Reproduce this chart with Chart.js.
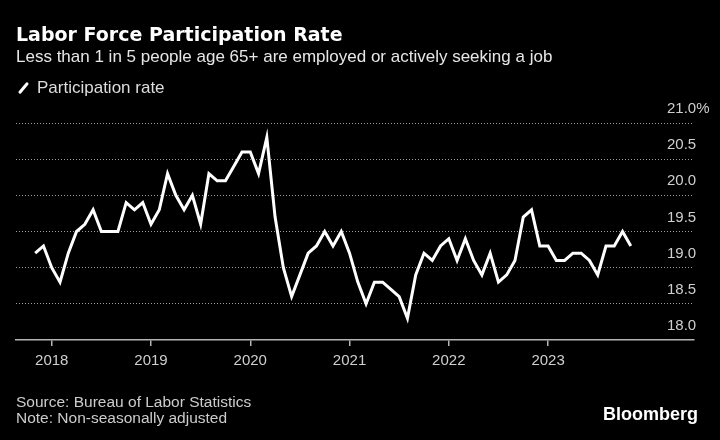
<!DOCTYPE html>
<html>
<head>
<meta charset="utf-8">
<title>Labor Force Participation Rate</title>
<style>
  body { margin: 0; background: #000; }
  #wrap { position: relative; width: 720px; height: 440px; overflow: hidden; background: #000; }
  #wrap canvas { position: absolute; left: 0; top: 0; }
  .txt { position: absolute; white-space: nowrap; font-family: 'Liberation Sans', Arial, sans-serif; }
  #title { left: 16px; top: 25px; font: bold 19px/19px 'DejaVu Sans', sans-serif; color: #fff; }
  #subtitle { left: 16px; top: 48px; font-size: 17px; line-height: 17px; color: #e6e6e6; }
  #legend { left: 37px; top: 79px; font-size: 17px; line-height: 17px; color: #ddd; }
  #legendIcon { position: absolute; left: 21.5px; top: 81px; width: 3px; height: 14px; background: #fff; border-radius: 1.5px; transform: rotate(40deg); }
  #source { left: 16px; top: 394px; font-size: 15.5px; line-height: 16px; color: #ccc; }
  #brand { right: 22px; top: 405px; font: bold 18px/18px 'Liberation Sans Narrow', 'Liberation Sans', sans-serif; color: #fff; }
</style>
</head>
<body>
<div id="wrap">
  <canvas id="myChart" width="720" height="440"></canvas>
  <div class="txt" id="title">Labor Force Participation Rate</div>
  <div class="txt" id="subtitle">Less than 1 in 5 people age 65+ are employed or actively seeking a job</div>
  <div id="legendIcon"></div>
  <div class="txt" id="legend">Participation rate</div>
  <div class="txt" id="source">Source: Bureau of Labor Statistics<br>Note: Non-seasonally adjusted</div>
  <div class="txt" id="brand">Bloomberg</div>
</div>

<script src="https://cdn.jsdelivr.net/npm/chart.js"></script>
<script>
// monthly participation rate, age 65+ (%)
const rate2017 = [19.2, 19.3]; // Nov, Dec
const rate2018 = [19.0, 18.8, 19.2, 19.5, 19.6, 19.8, 19.5, 19.5, 19.5, 19.9, 19.8, 19.9];
const rate2019 = [19.6, 19.8, 20.3, 20.0, 19.8, 20.0, 19.6, 20.3, 20.2, 20.2, 20.4, 20.6];
const rate2020 = [20.6, 20.3, 20.8, 19.7, 19.0, 18.6, 18.9, 19.2, 19.3, 19.5, 19.3, 19.5];
const rate2021 = [19.2, 18.8, 18.5, 18.8, 18.8, 18.7, 18.6, 18.3, 18.9, 19.2, 19.1, 19.3];
const rate2022 = [19.4, 19.1, 19.4, 19.1, 18.9, 19.2, 18.8, 18.9, 19.1, 19.7, 19.8, 19.3];
const rate2023 = [19.3, 19.1, 19.1, 19.2, 19.2, 19.1, 18.9, 19.3, 19.3, 19.5, 19.3]; // Jan..Nov

const yearTicks = [2018, 2019, 2020, 2021, 2022, 2023];
const yTicks = [18.0, 18.5, 19.0, 19.5, 20.0, 20.5, 21.0];

const byYear = [
  { year: 2017, firstMonth: 10, values: rate2017 },
  { year: 2018, firstMonth: 0, values: rate2018 },
  { year: 2019, firstMonth: 0, values: rate2019 },
  { year: 2020, firstMonth: 0, values: rate2020 },
  { year: 2021, firstMonth: 0, values: rate2021 },
  { year: 2022, firstMonth: 0, values: rate2022 },
  { year: 2023, firstMonth: 0, values: rate2023 }
];

const points = [];
for (const y of byYear) {
  y.values.forEach((v, i) => {
    points.push({ x: y.year + (y.firstMonth + i) / 12, y: v });
  });
}

const tickFont = { family: "'Liberation Sans', Arial, sans-serif", size: 15 };

// y labels sit just above their gridline, left aligned near the right edge
const yLabels = {
  id: 'yLabels',
  afterDraw(chart) {
    const ctx = chart.ctx;
    const ys = chart.scales.y;
    ctx.save();
    ctx.font = '15px ' + tickFont.family;
    ctx.fillStyle = '#cfcfcf';
    ctx.textAlign = 'left';
    ctx.textBaseline = 'alphabetic';
    for (const v of yTicks) {
      const label = v === 21 ? v.toFixed(1) + '%' : v.toFixed(1);
      ctx.fillText(label, 667, ys.getPixelForValue(v) - 10);
    }
    ctx.restore();
  }
};

const config = {
  type: 'line',
  data: {
    datasets: [{
      label: 'Participation rate',
      data: points,
      borderColor: '#ffffff',
      borderWidth: 3,
      pointRadius: 0,
      tension: 0,
      fill: false
    }]
  },
  options: {
    responsive: false,
    animation: false,
    layout: { padding: { left: 16, right: 26, top: 123, bottom: 60 } },
    plugins: {
      legend: { display: false },
      title: { display: false },
      tooltip: { enabled: false }
    },
    scales: {
      x: {
        type: 'linear',
        min: 2017.64,
        max: 2024.47,
        afterBuildTicks: (s) => { s.ticks = yearTicks.map(v => ({ value: v })); },
        afterFit: (s) => { s.height = 40; },
        border: { display: true, color: '#b4b4b4', width: 1.5 },
        grid: { drawOnChartArea: false, drawTicks: true, tickLength: 6, color: '#b4b4b4', lineWidth: 1.5 },
        ticks: {
          color: '#cfcfcf',
          font: tickFont,
          padding: 6,
          maxRotation: 0,
          callback: (v) => String(v)
        }
      },
      y: {
        position: 'right',
        min: 18,
        max: 21,
        afterBuildTicks: (s) => { s.ticks = yTicks.map(v => ({ value: v })); },
        afterFit: (s) => { s.width = 0; },
        border: { display: false, dash: [1, 2] },
        grid: {
          drawTicks: false,
          color: (c) => c.tick && c.tick.value === 18 ? 'rgba(0,0,0,0)' : 'rgba(255,255,255,0.6)',
          lineWidth: 1
        },
        ticks: { display: false }
      }
    }
  },
  plugins: [yLabels]
};

new Chart(document.getElementById('myChart'), config);
</script>
</body>
</html>
